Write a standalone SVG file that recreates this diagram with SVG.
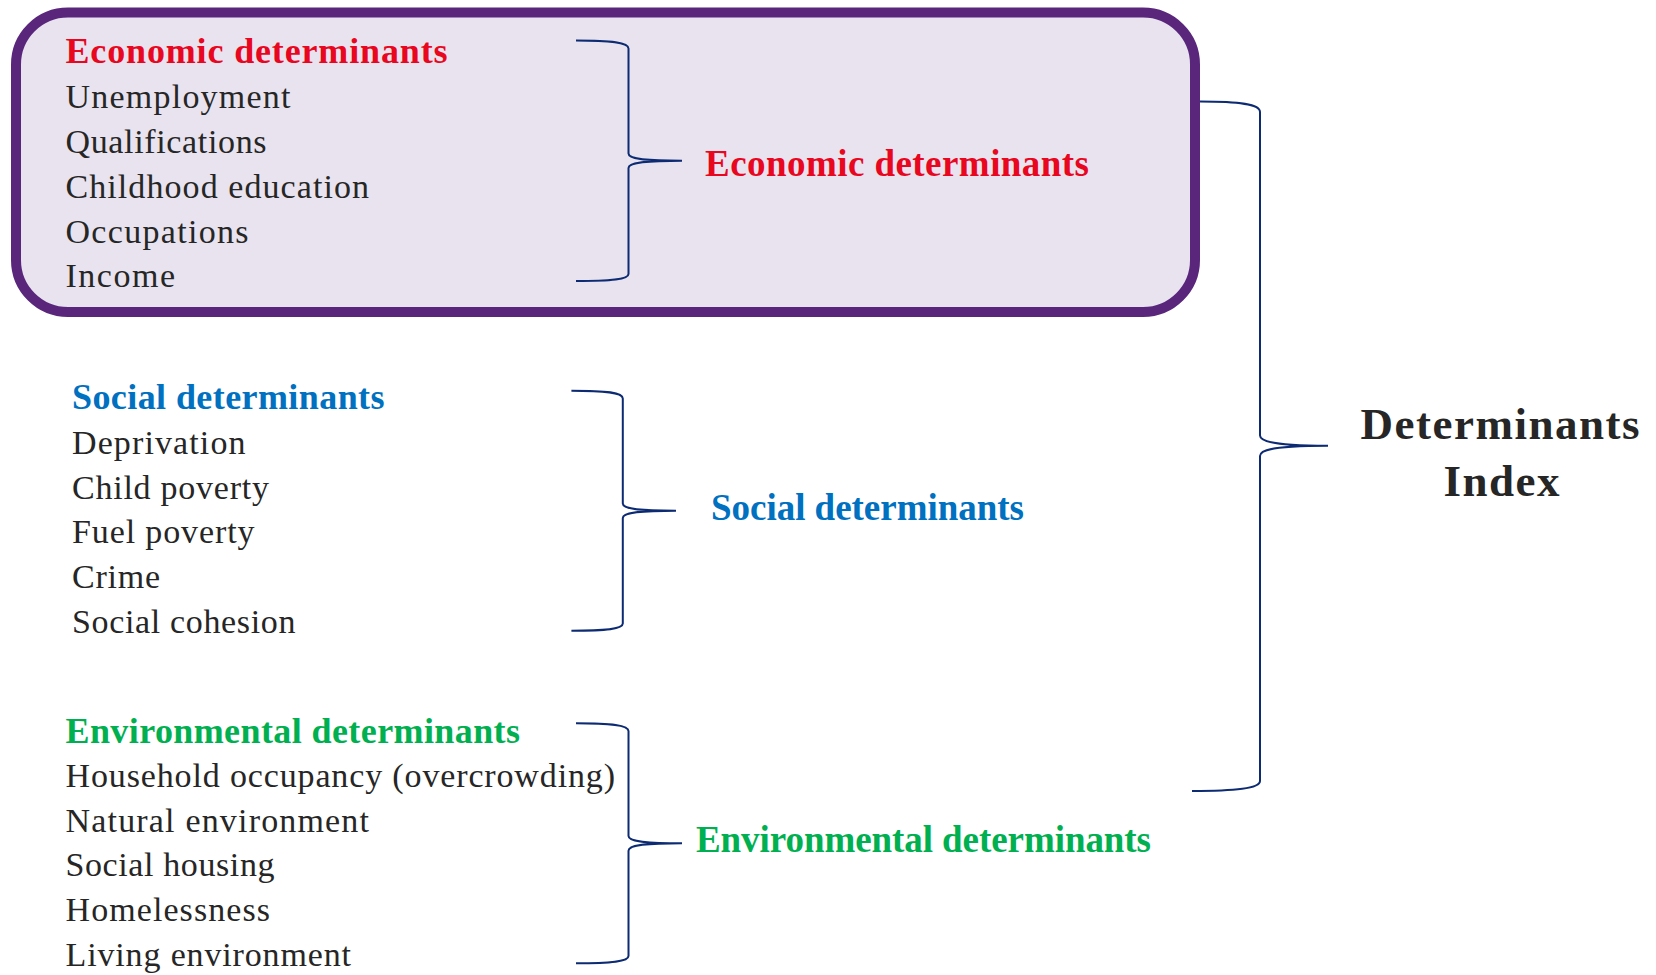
<svg xmlns="http://www.w3.org/2000/svg" width="1656" height="975" viewBox="0 0 1656 975">
<style>
.item{font-family:"Liberation Serif","Times New Roman",serif;font-size:34px;fill:#262626}
.head{font-family:"Liberation Serif","Times New Roman",serif;font-size:36px;font-weight:bold}
.lbl{font-family:"Liberation Serif","Times New Roman",serif;font-size:37px;font-weight:bold}
.red{fill:#E8071E}
.blue{fill:#0070C0}
.green{fill:#00B050}
.brace{fill:none;stroke:#0D2B73;stroke-width:2}
.title{font-family:"Liberation Serif","Times New Roman",serif;font-size:45px;font-weight:bold;fill:#262626}
</style>
<rect width="1656" height="975" fill="#FFFFFF"/>
<g id="economic-box">
<rect x="16" y="12.5" width="1179" height="299.5" rx="52" ry="52" fill="#E8E3EE" stroke="#59267C" stroke-width="10"/>
<text class="head red" x="65.5" y="63" textLength="382">Economic determinants</text>
<text class="item" x="65.5" y="108" textLength="225">Unemployment</text>
<text class="item" x="65.5" y="152.7" textLength="201">Qualifications</text>
<text class="item" x="65.5" y="197.5" textLength="303.5">Childhood education</text>
<text class="item" x="65.5" y="242.5" textLength="183">Occupations</text>
<text class="item" x="65.5" y="287" textLength="109.5">Income</text>
</g>
<g id="social-list">
<text class="head blue" x="72" y="409" textLength="312.5">Social determinants</text>
<text class="item" x="72" y="453.8" textLength="173.5">Deprivation</text>
<text class="item" x="72" y="498.5" textLength="197">Child poverty</text>
<text class="item" x="72" y="543.3" textLength="182.5">Fuel poverty</text>
<text class="item" x="72" y="588.2" textLength="88">Crime</text>
<text class="item" x="72" y="633" textLength="223.5">Social cohesion</text>
</g>
<g id="environmental-list">
<text class="head green" x="65.5" y="742.5" textLength="454.5">Environmental determinants</text>
<text class="item" x="65.5" y="787.2" textLength="549.5">Household occupancy (overcrowding)</text>
<text class="item" x="65.5" y="831.8" textLength="303.5">Natural environment</text>
<text class="item" x="65.5" y="876.4" textLength="209">Social housing</text>
<text class="item" x="65.5" y="921" textLength="204.5">Homelessness</text>
<text class="item" x="65.5" y="965.7" textLength="285.5">Living environment</text>
</g>
<g id="economic-label">
<text class="lbl red" x="705" y="175.5" textLength="384">Economic determinants</text>
</g>
<g id="social-label">
<text class="lbl blue" x="711" y="520" textLength="313">Social determinants</text>
</g>
<g id="environmental-label">
<text class="lbl green" x="696" y="852" textLength="455">Environmental determinants</text>
</g>
<g id="determinants-index">
<text class="title" x="1500" y="439" text-anchor="middle" textLength="279">Determinants</text>
<text class="title" x="1501.5" y="496" text-anchor="middle" textLength="116">Index</text>
</g>
<g id="connectors">
<path class="brace" d="M576,40.5 C612,40.5 628.5,42.5 628.5,48.5 V153.5 C628.5,158.5 642,160.7 682,160.7 M682,160.7 C642,160.7 628.5,163 628.5,168 V274 C628.5,279.5 612,281 576,281"/>
<path class="brace" d="M571.4,390.7 C607,390.7 622.8,392.5 622.8,398.5 V503.5 C622.8,508.5 636,510.7 676,510.7 M676,510.7 C636,510.7 622.8,513 622.8,518 V623.5 C622.8,629 607,630.7 571.4,630.7"/>
<path class="brace" d="M576,723.3 C612,723.3 628.5,725 628.5,731 V836 C628.5,841 642,843.3 682,843.3 M682,843.3 C642,843.3 628.5,845.5 628.5,850.7 V956 C628.5,961.5 612,963.3 576,963.3"/>
<path class="brace" d="M1200,101.5 C1240,101.5 1260,104 1260,112 V435.5 C1260,442 1278,445.7 1328,445.7 M1328,445.7 C1278,445.7 1260,449 1260,456 V781 C1260,788.5 1235,791 1192,791"/>
</g>
</svg>
